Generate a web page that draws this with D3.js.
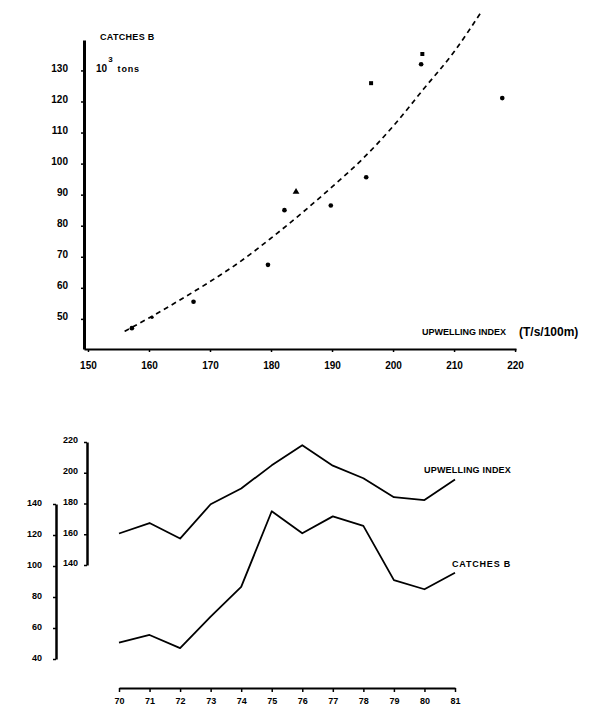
<!DOCTYPE html>
<html>
<head>
<meta charset="utf-8">
<script src="https://cdn.jsdelivr.net/npm/d3@7/dist/d3.min.js"></script>
<style>
  html, body { margin: 0; padding: 0; background: #fff; }
  svg { display: block; }
  text { font-family: "Liberation Sans", Arial, sans-serif; font-weight: bold; fill: #000; }
</style>
</head>
<body>
<svg id="chart" width="600" height="717"></svg>
<script>
// ---------------- DATA ----------------
const years      = [70, 71, 72, 73, 74, 75, 76, 77, 78, 79, 80, 81];
const upwelling  = [160.5, 167.3, 157.2, 179.5, 189.8, 204.8, 217.9, 204.6, 196.4, 184.1, 182.2, 195.6];
const catches    = [50.5, 55.5, 47.0, 67.4, 86.5, 135.3, 121.1, 132.0, 125.9, 90.9, 85.0, 95.6];

// dashed fitted curve
const trendX = [156, 160, 165, 170, 175, 180, 185, 190, 195, 200, 205, 210, 214.5];
const trendY = [46, 50.3, 56, 62, 68.5, 76, 84, 92.5, 101.5, 112, 124, 136, 149];

// tick labels
const scatterXTicks = [150, 160, 170, 180, 190, 200, 210, 220];
const scatterYTicks = [50, 60, 70, 80, 90, 100, 110, 120, 130];
const yearTicks     = [70, 71, 72, 73, 74, 75, 76, 77, 78, 79, 80, 81];
const upTicks       = [140, 160, 180, 200, 220];
const catchTicks    = [40, 60, 80, 100, 120, 140];

// ---------------- DRAW ----------------
const svg = d3.select("#chart");

// ===== Upper panel: scatter =====
const sx = d3.scaleLinear().domain([149.35, 220.15]).range([84, 516]);
const sy = d3.scaleLinear().domain([40.3, 139.8]).range([349, 40]);

const gx = svg.append("g").attr("transform", "translate(0,349)")
  .call(d3.axisBottom(sx).tickValues(scatterXTicks).tickSize(3).tickSizeOuter(0).tickPadding(10));
gx.select(".domain").attr("stroke", "#000").attr("stroke-width", 2.2);
gx.selectAll(".tick line").attr("stroke", "#000").attr("stroke-width", 1.5);
gx.selectAll(".tick text").attr("font-size", 10).attr("font-family", "Liberation Sans, Arial, sans-serif").attr("font-weight", "bold");

const gy = svg.append("g").attr("transform", "translate(84,0)")
  .call(d3.axisLeft(sy).tickValues(scatterYTicks).tickSize(3).tickSizeOuter(0).tickPadding(13));
gy.select(".domain").attr("stroke", "#000").attr("stroke-width", 3);
gy.selectAll(".tick line").attr("stroke", "#000").attr("stroke-width", 1.5);
gy.selectAll(".tick text").attr("font-size", 10).attr("dy", "0.1em").attr("font-family", "Liberation Sans, Arial, sans-serif").attr("font-weight", "bold");

// dashed trend curve
const trendPts = trendX.map((x, i) => [x, trendY[i]]);
svg.append("path")
  .datum(trendPts)
  .attr("fill", "none")
  .attr("stroke", "#000")
  .attr("stroke-width", 1.7)
  .attr("stroke-dasharray", "5,4")
  .attr("d", d3.line().x(d => sx(d[0])).y(d => sy(d[1])).curve(d3.curveMonotoneX));

// scatter points (year 79 drawn as triangle, 75 & 78 as squares, 70 small)
const shapeFor = { 70: "small", 75: "square", 78: "square", 79: "triangle" };
const pts = years.map((yr, i) => ({ yr, u: upwelling[i], c: catches[i] }));
svg.append("g").selectAll("path.pt").data(pts).join("path")
  .attr("class", "pt")
  .attr("transform", d => `translate(${sx(d.u)},${sy(d.c)})`)
  .attr("fill", "#000")
  .attr("d", d => {
    const s = shapeFor[d.yr];
    if (s === "triangle") return d3.symbol(d3.symbolTriangle, 20)();
    if (s === "square") return d3.symbol(d3.symbolSquare, 16)();
    if (s === "small") return d3.symbol(d3.symbolCircle, 9)();
    return d3.symbol(d3.symbolCircle, 17)();
  });

// upper panel labels
svg.append("text").attr("x", 100).attr("y", 40).attr("font-size", 9).attr("letter-spacing", 0.3).text("CATCHES  B");
const unit = svg.append("text").attr("x", 96).attr("y", 72).attr("font-size", 10);
unit.append("tspan").text("10");
unit.append("tspan").attr("font-size", 8).attr("dx", 1).attr("dy", -10).text("3");
unit.append("tspan").attr("font-size", 9).attr("dx", 5).attr("dy", 10).attr("letter-spacing", 0.8).text("tons");

svg.append("text").attr("x", 422).attr("y", 335).attr("font-size", 9).text("UPWELLING INDEX");
svg.append("text").attr("x", 519).attr("y", 336).attr("font-size", 12).text("(T/s/100m)");

// ===== Lower panel: time series =====
const tx  = d3.scaleLinear().domain([70, 81]).range([119, 455]);
const tyU = d3.scaleLinear().domain([140, 220]).range([565, 442]);
const tyC = d3.scaleLinear().domain([40, 140]).range([659, 504]);

const gtx = svg.append("g").attr("transform", "translate(0,688)")
  .call(d3.axisBottom(tx).tickValues(yearTicks).tickFormat(d3.format("d")).tickSize(4).tickSizeOuter(0).tickPadding(6));
gtx.select(".domain").attr("stroke", "#000").attr("stroke-width", 2.2);
gtx.selectAll(".tick line").attr("stroke", "#000").attr("stroke-width", 1.5);
gtx.selectAll(".tick text").attr("font-size", 9).attr("font-family", "Liberation Sans, Arial, sans-serif").attr("font-weight", "bold");

const gU = svg.append("g").attr("transform", "translate(87,0)")
  .call(d3.axisLeft(tyU).tickValues(upTicks).tickSize(3).tickSizeOuter(0).tickPadding(6));
gU.select(".domain").attr("stroke", "#000").attr("stroke-width", 2.5);
gU.selectAll(".tick line").attr("stroke", "#000").attr("stroke-width", 1.5);
gU.selectAll(".tick text").attr("font-size", 9).attr("dy", "0.1em").attr("font-family", "Liberation Sans, Arial, sans-serif").attr("font-weight", "bold");

const gC = svg.append("g").attr("transform", "translate(56,0)")
  .call(d3.axisLeft(tyC).tickValues(catchTicks).tickSize(3).tickSizeOuter(0).tickPadding(11));
gC.select(".domain").attr("stroke", "#000").attr("stroke-width", 2.5);
gC.selectAll(".tick line").attr("stroke", "#000").attr("stroke-width", 1.5);
gC.selectAll(".tick text").attr("font-size", 9).attr("dy", "0.15em").attr("font-family", "Liberation Sans, Arial, sans-serif").attr("font-weight", "bold");

svg.append("path").datum(pts)
  .attr("fill", "none").attr("stroke", "#000").attr("stroke-width", 1.8).attr("stroke-linejoin", "round")
  .attr("d", d3.line().x(d => tx(d.yr)).y(d => tyU(d.u)));
svg.append("path").datum(pts)
  .attr("fill", "none").attr("stroke", "#000").attr("stroke-width", 1.8).attr("stroke-linejoin", "round")
  .attr("d", d3.line().x(d => tx(d.yr)).y(d => tyC(d.c)));

svg.append("text").attr("x", 424).attr("y", 473).attr("font-size", 9).attr("letter-spacing", 0.2).text("UPWELLING INDEX");
svg.append("text").attr("x", 452).attr("y", 567).attr("font-size", 9).attr("letter-spacing", 0.8).text("CATCHES  B");
</script>
</body>
</html>
